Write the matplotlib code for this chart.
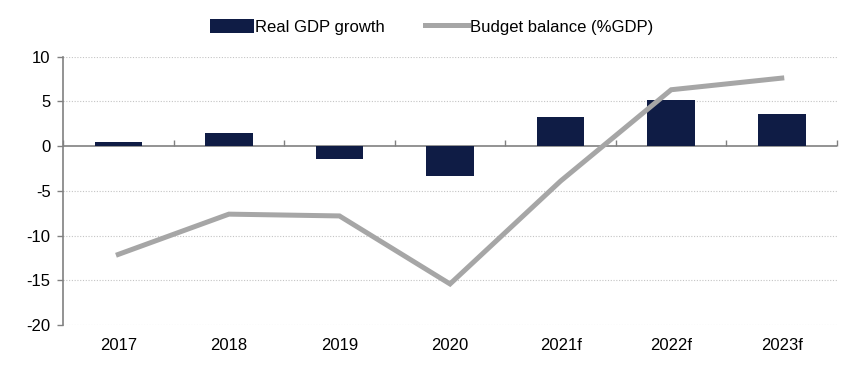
import matplotlib
matplotlib.use("Agg")
import matplotlib.pyplot as plt
from matplotlib import font_manager
import numpy as np

categories = ["2017", "2018", "2019", "2020", "2021f", "2022f", "2023f"]
gdp_growth = [0.5, 1.5, -1.4, -3.3, 3.2, 5.2, 3.6]
budget_balance = [-12.1, -7.6, -7.8, -15.4, -3.9, 6.3, 7.6]
yticks = [-20, -15, -10, -5, 0, 5, 10]

plt.rcParams['font.family'] = ["Liberation Sans", 'DejaVu Sans']
fs = 12

navy = "#0f1c45"
grey_line = "#a6a6a6"
axis_col = "#808080"

fig = plt.figure(figsize=(8.55, 3.75), dpi=100)
ax = fig.add_axes([0.0737, 0.133, 0.979 - 0.0737, 0.849 - 0.133])

x = np.arange(len(categories))
bars = ax.bar(x, gdp_growth, width=0.43, color=navy, label="Real GDP growth", zorder=3)
line, = ax.plot(x, budget_balance, color=grey_line, lw=3.6, label="Budget balance (%GDP)",
                zorder=4, solid_joinstyle='miter')

ax.set_xlim(-0.5, len(categories) - 0.5)
ax.set_ylim(-20, 10)
ax.set_yticks(yticks)
ax.set_yticklabels([str(v) for v in yticks], fontsize=fs)
for v in yticks:
    if v != 0:
        ax.axhline(v, color="#c4c4c4", lw=0.8, ls=(0, (1, 1.5)), zorder=1)
ax.axhline(0, color=axis_col, lw=1.2, zorder=2)

ax.set_xticks(x)
ax.set_xticklabels(categories, fontsize=fs)
ax.tick_params(axis='x', length=0, pad=9)
ax.tick_params(axis='y', length=4, color=axis_col, width=1, pad=5)

for s in ['top', 'right', 'bottom']:
    ax.spines[s].set_visible(False)
ax.spines['left'].set_color(axis_col)
ax.spines['left'].set_linewidth(1.2)

# category boundary ticks on the zero line
sec = ax.secondary_xaxis((0 - (-20)) / 30)
sec.set_xticks(np.arange(len(categories) + 1) - 0.5)
sec.set_xticklabels([])
sec.tick_params(length=4, color=axis_col, width=1, direction='out')
sec.spines['bottom'].set_visible(False)
sec.spines['top'].set_visible(False)

leg = fig.legend([bars, line], ["Real GDP growth", "Budget balance (%GDP)"],
                 loc='center', bbox_to_anchor=(0.505, 0.928), ncol=2, frameon=False,
                 fontsize=fs, handlelength=2.6, handleheight=0.9, columnspacing=2.4,
                 handletextpad=0.1)

fig.savefig("out.png", dpi=100)
